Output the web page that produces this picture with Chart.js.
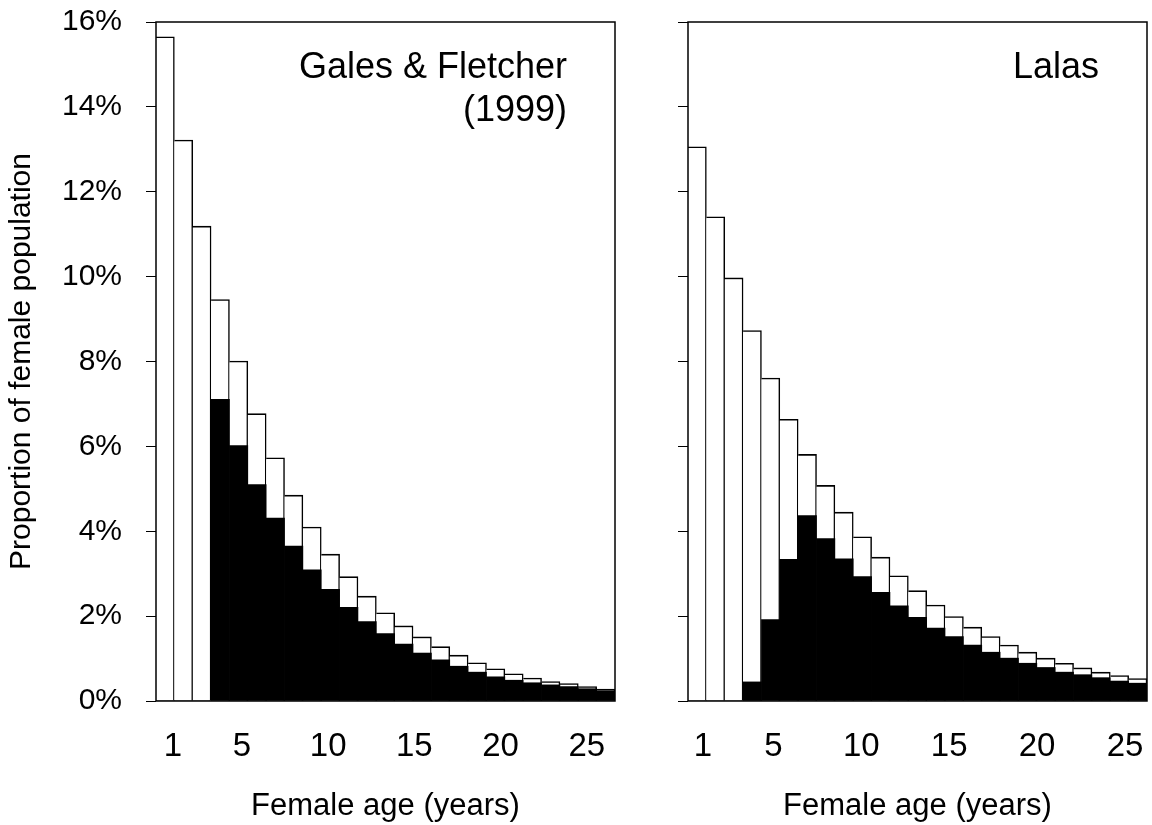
<!DOCTYPE html>
<html>
<head>
<meta charset="utf-8">
<title>Female age structure</title>
<script src="https://cdn.jsdelivr.net/npm/chart.js@4/dist/chart.umd.min.js"></script>
<style>
	html, body { margin: 0; padding: 0; background: #fff; }
	#wrap { position: relative; width: 1152px; height: 825px; }
	#leftChart { position: absolute; left: 0; top: 0; }
	#rightChart { position: absolute; left: 640px; top: 0; }
</style>
</head>
<body>
<div id="wrap">
	<canvas id="leftChart" width="640" height="825"></canvas>
	<canvas id="rightChart" width="512" height="825"></canvas>
</div>
<script>
// Data (percent of female population by age)
const ages = ['1','2','3','4','5','6','7','8','9','10','11','12','13','14','15','16','17','18','19','20','21','22','23','24','25'];
const ageTicks = [1, 5, 10, 15, 20, 25];
const yTicks = [0, 2, 4, 6, 8, 10, 12, 14, 16];

const galesTotal = [15.65, 13.22, 11.19, 9.46, 8.01, 6.77, 5.73, 4.85, 4.10, 3.46, 2.93, 2.47, 2.08, 1.77, 1.51, 1.28, 1.08, 0.90, 0.76, 0.64, 0.54, 0.46, 0.41, 0.34, 0.28];
const galesBlack = [0, 0, 0, 7.11, 6.02, 5.10, 4.31, 3.65, 3.09, 2.63, 2.21, 1.87, 1.59, 1.34, 1.13, 0.97, 0.82, 0.68, 0.57, 0.49, 0.43, 0.38, 0.34, 0.29, 0.24];
const lalasTotal = [13.06, 11.41, 9.97, 8.73, 7.61, 6.64, 5.81, 5.08, 4.45, 3.87, 3.39, 2.95, 2.60, 2.26, 1.99, 1.74, 1.52, 1.32, 1.15, 1.01, 0.89, 0.78, 0.68, 0.60, 0.53];
const lalasBlack = [0, 0, 0, 0.45, 1.92, 3.34, 4.37, 3.83, 3.35, 2.93, 2.56, 2.24, 1.97, 1.72, 1.52, 1.32, 1.15, 1.01, 0.89, 0.79, 0.68, 0.62, 0.55, 0.47, 0.42];

const galesTitle = ['Gales & Fletcher', '(1999)'];
const lalasTitle = ['Lalas'];

const FONT = '"Liberation Sans", Arial, Helvetica, sans-serif';

// box around the plot area
const framePlugin = {
	id: 'frame',
	afterDatasetsDraw(chart) {
		const a = chart.chartArea, ctx = chart.ctx;
		ctx.save();
		ctx.strokeStyle = '#000';
		ctx.lineWidth = 1.5;
		ctx.strokeRect(a.left, a.top, a.right - a.left, a.bottom - a.top);
		ctx.restore();
	}
};

// right-aligned source label inside the plot
const cornerLabel = {
	id: 'cornerLabel',
	afterDraw(chart, args, opts) {
		const a = chart.chartArea, ctx = chart.ctx;
		ctx.save();
		ctx.fillStyle = '#000';
		ctx.font = '36px ' + FONT;
		ctx.textAlign = 'right';
		ctx.textBaseline = 'alphabetic';
		(opts.lines || []).forEach((t, i) => {
			ctx.fillText(t, a.right - 48, a.top + 56 + i * 43);
		});
		ctx.restore();
	}
};

function makeChart(id, total, black, lines, cfg) {
	const ctx = document.getElementById(id).getContext('2d');
	return new Chart(ctx, {
		type: 'bar',
		data: {
			labels: ages,
			datasets: [{
				label: 'Breeding',
				data: black,
				backgroundColor: '#000',
				borderWidth: 0,
				grouped: false,
				barPercentage: 1,
				categoryPercentage: 1
			}, {
				label: 'All females',
				data: total,
				backgroundColor: '#fff',
				borderColor: '#000',
				borderWidth: { top: 1.6, right: 1.5, left: 0, bottom: 0 },
				borderSkipped: false,
				grouped: false,
				barPercentage: 1,
				categoryPercentage: 1
			}]
		},
		options: {
			responsive: false,
			animation: false,
			devicePixelRatio: 1,
			layout: { padding: { left: 0, top: 22, right: cfg.padRight, bottom: 0 } },
			plugins: {
				legend: { display: false },
				tooltip: { enabled: false },
				cornerLabel: { lines: lines }
			},
			scales: {
				x: { display: false },
				x2: {
					type: 'linear',
					position: 'bottom',
					offset: false,
					min: cfg.xMin,
					max: cfg.xMax,
					grid: { display: false, offset: false },
					border: { display: false },
					afterBuildTicks: s => { s.ticks = ageTicks.map(v => ({ value: v })); },
					afterFit: s => { s.height = 124; s.paddingLeft = 0; s.paddingRight = 0; },
					ticks: {
						color: '#000',
						padding: 18,
						font: { family: FONT, size: 33 },
						callback: v => String(v)
					},
					title: {
						display: true,
						text: 'Female age (years)',
						color: '#000',
						padding: { top: 0, bottom: 0 },
						font: { family: FONT, size: 31 }
					}
				},
				y: {
					min: 0,
					max: 16,
					afterBuildTicks: s => { s.ticks = yTicks.map(v => ({ value: v })); },
					afterFit: s => { s.width = cfg.yWidth; s.paddingTop = 0; s.paddingBottom = 0; },
					grid: { drawOnChartArea: false, drawTicks: true, tickLength: 10, color: '#000', lineWidth: 1 },
					border: { display: false },
					ticks: {
						display: cfg.showY,
						color: '#000',
						padding: 24,
						font: { family: FONT, size: 30 },
						callback: v => v + '%'
					},
					title: {
						display: cfg.showY,
						text: 'Proportion of female population',
						color: '#000',
						font: { family: FONT, size: 30 }
					}
				}
			}
		},
		plugins: [framePlugin, cornerLabel]
	});
}

makeChart('leftChart', galesTotal, galesBlack, galesTitle,
	{ padRight: 25, yWidth: 156, showY: true, xMin: 0.014, xMax: 26.64 });
makeChart('rightChart', lalasTotal, lalasBlack, lalasTitle,
	{ padRight: 5, yWidth: 48, showY: false, xMin: 0.147, xMax: 26.25 });
</script>
</body>
</html>
